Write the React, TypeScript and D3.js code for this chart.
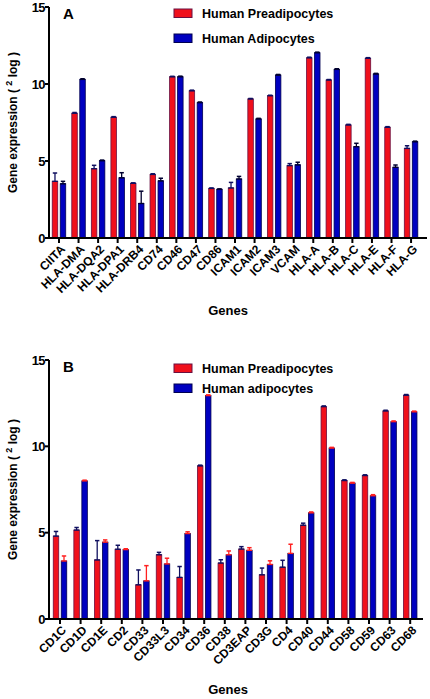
import React from "react";
import * as d3 from "d3";

const genesA = ["CIITA","HLA-DMA","HLA-DQA2","HLA-DPA1","HLA-DRB4","CD74","CD46","CD47","CD86","ICAM1","ICAM2","ICAM3","VCAM","HLA-A","HLA-B","HLA-C","HLA-E","HLA-F","HLA-G"];
const preA = [3.68,8.1,4.5,7.84,3.55,4.13,10.47,9.56,3.22,3.25,9.03,9.24,4.7,11.7,10.26,7.34,11.67,7.19,5.82];
const preAErr = [0.54,0.05,0.22,0.04,0.03,0.04,0.03,0.04,0.03,0.36,0.03,0.03,0.13,0.04,0.03,0.04,0.04,0.04,0.17];
const adiA = [3.52,10.3,5.02,3.91,2.24,3.71,10.47,8.79,3.16,3.83,7.73,10.58,4.75,12.03,10.95,5.93,10.65,4.59,6.25];
const adiAErr = [0.16,0.04,0.04,0.33,0.8,0.17,0.04,0.04,0.03,0.17,0.04,0.04,0.17,0.04,0.04,0.22,0.04,0.15,0.04];

const genesB = ["CD1C","CD1D","CD1E","CD2","CD33","CD33L3","CD34","CD36","CD38","CD3EAP","CD3G","CD4","CD40","CD44","CD58","CD59","CD63","CD68"];
const preB = [4.8,5.15,3.42,4.04,1.98,3.72,2.41,8.87,3.24,4.05,2.56,3.0,5.43,12.3,8.02,8.31,12.05,12.96];
const preBErr = [0.27,0.15,1.12,0.23,0.86,0.14,0.63,0.04,0.19,0.14,0.39,0.4,0.12,0.04,0.04,0.04,0.04,0.04];
const adiB = [3.36,8.0,4.45,4.02,2.21,3.19,4.95,12.94,3.72,3.98,3.16,3.8,6.15,9.9,7.87,7.14,11.43,12.0];
const adiBErr = [0.29,0.04,0.13,0.05,0.88,0.33,0.1,0.04,0.22,0.15,0.21,0.53,0.05,0.04,0.04,0.06,0.04,0.04];

const yTicks = [0, 5, 10, 15];
const seriesKeys = ["pre", "adi"];

const RED = "#f0101c";
const BLUE = "#0000c0";
const NAVY = "#101060";
const FONT = "'Liberation Sans', Arial, sans-serif";

type PanelProps = {
  letter: string;
  genes: string[];
  pre: number[];
  preErr: number[];
  adi: number[];
  adiErr: number[];
  legend: string[];
  top: number;
  bottom: number;
  xStart: number;
  step: number;
  axisEnd: number;
  preErrColor: string;
  adiErrColor: string;
  legendY: number[];
  letterY: number;
  genesY: number;
};

function Panel(p: PanelProps) {
  const y = d3.scaleLinear().domain([0, 15]).range([p.bottom, p.top]);
  const x0 = d3.scaleBand().domain(p.genes).range([p.xStart, p.xStart + p.step * p.genes.length]).padding(0);
  const bw = x0.bandwidth();
  const x1 = d3.scaleBand().domain(seriesKeys).range([bw / 2 - 6.75, bw / 2 + 6.75]).paddingInner(0.3125).paddingOuter(0);
  const w = x1.bandwidth();
  const axisX = 49;
  const bars: React.ReactNode[] = [];
  p.genes.forEach((g, i) => {
    const series = [
      { key: "pre", v: p.pre[i], e: p.preErr[i], fill: RED, stroke: "#6a1040", ec: p.preErrColor },
      { key: "adi", v: p.adi[i], e: p.adiErr[i], fill: BLUE, stroke: "#000050", ec: p.adiErrColor },
    ];
    series.forEach((s) => {
      const bx = (x0(g) as number) + (x1(s.key) as number);
      const cx = bx + w / 2;
      const yt = y(s.v);
      const ye = y(s.v + s.e);
      bars.push(
        <g key={g + s.key}>
          <rect x={bx} y={yt} width={w} height={p.bottom - yt} fill={s.fill} stroke={s.stroke} strokeWidth={0.8} />
          <line x1={cx} x2={cx} y1={yt} y2={ye} stroke={s.ec} strokeWidth={1.3} />
          <line x1={cx - 2.2} x2={cx + 2.2} y1={ye} y2={ye} stroke={s.ec} strokeWidth={1.5} />
          <line x1={bx} x2={bx + w} y1={yt} y2={yt} stroke={s.ec} strokeWidth={1.4} />
        </g>
      );
    });
  });
  const midY = (p.top + p.bottom) / 2;
  return (
    <g>
      {bars}
      <line x1={axisX} x2={axisX} y1={p.top} y2={p.bottom + 1} stroke="#000" strokeWidth={2} />
      <line x1={axisX - 1} x2={p.axisEnd} y1={p.bottom} y2={p.bottom} stroke="#000" strokeWidth={2} />
      {yTicks.map((t) => (
        <g key={"yt" + t}>
          <line x1={axisX - 4} x2={axisX} y1={y(t)} y2={y(t)} stroke="#000" strokeWidth={2} />
          <text x={axisX - 4} y={y(t)} dy="0.36em" textAnchor="end" fontSize={13} fontWeight="bold" fontFamily={FONT} letterSpacing={-0.6}>{t}</text>
        </g>
      ))}
      {p.genes.map((g) => {
        const cx = (x0(g) as number) + bw / 2;
        return (
          <g key={"xt" + g}>
            <line x1={cx} x2={cx} y1={p.bottom} y2={p.bottom + 5} stroke="#000" strokeWidth={2} />
            <text transform={`translate(${cx + 4},${p.bottom + 9}) rotate(-45)`} textAnchor="end" fontSize={12} fontWeight="bold" fontFamily={FONT} dy="0.35em">{g}</text>
          </g>
        );
      })}
      <text x={63} y={p.letterY} fontSize={15} fontWeight="bold" fontFamily={FONT}>{p.letter}</text>
      <text transform={`translate(17,${midY}) rotate(-90)`} textAnchor="middle" fontSize={12} fontFamily={FONT} fontWeight="bold">
        Gene expression (  <tspan fontSize={9} dy={-5}>2</tspan><tspan dy={5}> log )</tspan>
      </text>
      <text x={228} y={p.genesY} textAnchor="middle" fontSize={13} fontWeight="bold" fontFamily={FONT}>Genes</text>
      {p.legend.map((l, i) => (
        <g key={"lg" + i}>
          <rect x={174} y={p.legendY[i] - 9} width={18} height={8.5} fill={i === 0 ? RED : BLUE} stroke={i === 0 ? "#6a1040" : "#000050"} strokeWidth={1} />
          <text x={202} y={p.legendY[i]} fontSize={12.5} fontWeight="bold" fontFamily={FONT}>{l}</text>
        </g>
      ))}
    </g>
  );
}

export default function App() {
  return (
    <svg width={430} height={699} style={{ position: "absolute", left: 0, top: 0, background: "#fff" }}>
      <rect width={430} height={699} fill="#fff" />
      <Panel letter="A" genes={genesA} pre={preA} preErr={preAErr} adi={adiA} adiErr={adiAErr}
        legend={["Human Preadipocytes", "Human Adipocytes"]} top={7} bottom={238} xStart={49.2} step={19.56} axisEnd={427}
        preErrColor={NAVY} adiErrColor="#000030" legendY={[18, 43]} letterY={19} genesY={315} />
      <Panel letter="B" genes={genesB} pre={preB} preErr={preBErr} adi={adiB} adiErr={adiBErr}
        legend={["Human Preadipocytes", "Human adipocytes"]} top={360} bottom={619} xStart={49.7} step={20.6} axisEnd={423}
        preErrColor={NAVY} adiErrColor="#ff2020" legendY={[373, 393]} letterY={372} genesY={694} />
    </svg>
  );
}
